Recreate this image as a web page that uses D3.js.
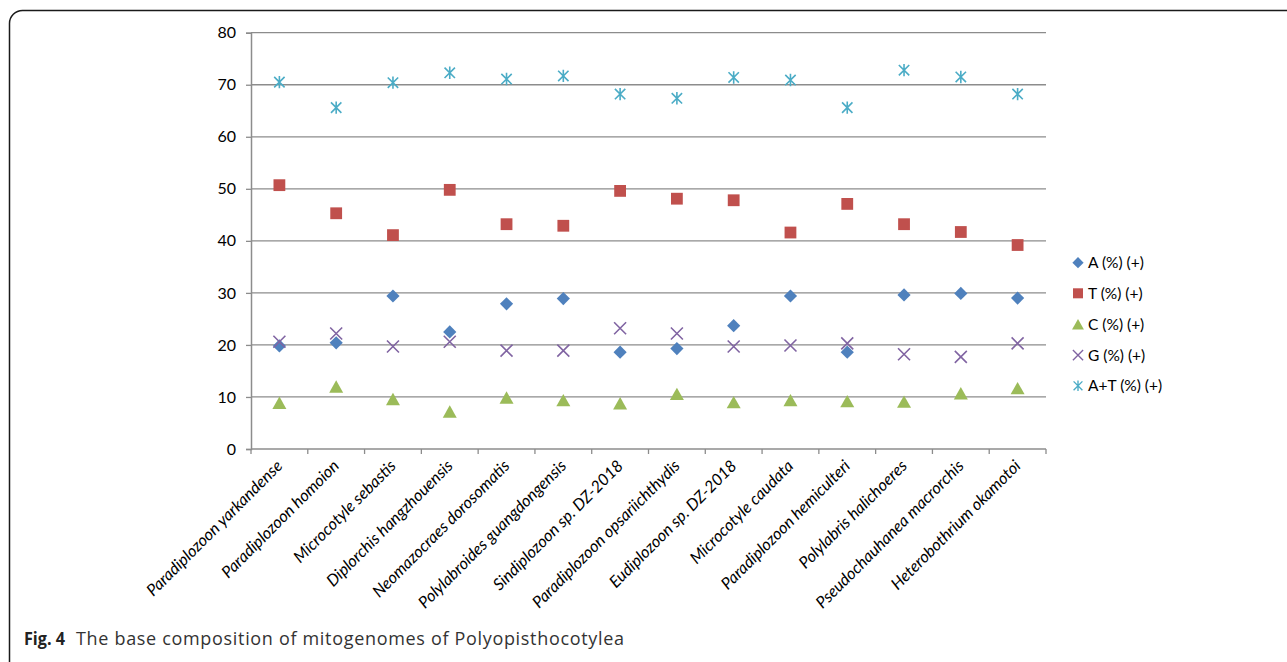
<!DOCTYPE html>
<html>
<head>
<meta charset="utf-8">
<script src="https://cdn.jsdelivr.net/npm/d3@7/dist/d3.min.js"></script>
<style>
  html, body { margin: 0; padding: 0; background: #fff; }
  svg { display: block; }
</style>
</head>
<body>
<svg id="chart" width="1287" height="662"></svg>
<script>
// Species (x-axis categories)
const species = [
  "Paradiplozoon yarkandense",
  "Paradiplozoon homoion",
  "Microcotyle sebastis",
  "Diplorchis hangzhouensis",
  "Neomazocraes dorosomatis",
  "Polylabroides guangdongensis",
  "Sindiplozoon sp. DZ-2018",
  "Paradiplozoon opsariichthydis",
  "Eudiplozoon sp. DZ-2018",
  "Microcotyle caudata",
  "Paradiplozoon hemiculteri",
  "Polylabris halichoeres",
  "Pseudochauhanea macrorchis",
  "Heterobothrium okamotoi"
];

// Base composition (%) of the (+) strand
const valuesA  = [19.8, 20.4, 29.4, 22.5, 27.9, 28.9, 18.6, 19.3, 23.7, 29.4, 18.6, 29.6, 29.9, 29.0];
const valuesT  = [50.7, 45.3, 41.1, 49.8, 43.2, 42.9, 49.6, 48.1, 47.8, 41.6, 47.1, 43.2, 41.7, 39.2];
const valuesC  = [ 8.9, 12.0,  9.6,  7.2,  9.9,  9.4,  8.8, 10.6,  9.0,  9.4,  9.2,  9.1, 10.7, 11.7];
const valuesG  = [20.6, 22.2, 19.7, 20.6, 18.9, 18.9, 23.2, 22.2, 19.7, 19.9, 20.3, 18.2, 17.7, 20.3];
const valuesAT = [70.5, 65.6, 70.4, 72.3, 71.1, 71.7, 68.2, 67.4, 71.4, 70.9, 65.6, 72.8, 71.5, 68.2];

const yTicks = [0, 10, 20, 30, 40, 50, 60, 70, 80];

const seriesNames  = ["A (%) (+)", "T (%) (+)", "C (%) (+)", "G (%) (+)", "A+T (%) (+)"];
const seriesValues = [valuesA, valuesT, valuesC, valuesG, valuesAT];
const seriesColors = ["#4F81BD", "#C0504D", "#9BBB59", "#8064A2", "#4BACC6"];
const seriesShapes = ["diamond", "square", "triangle", "x", "star"];

const svg = d3.select("#chart");
const chartFont = "Lato, 'Liberation Sans', sans-serif";

// Rounded figure frame (continues past the right and bottom edges)
svg.append("rect")
  .attr("x", 9.5).attr("y", 10.5)
  .attr("width", 1320).attr("height", 680)
  .attr("rx", 13).attr("ry", 13)
  .attr("fill", "none")
  .attr("stroke", "#1a1a1a")
  .attr("stroke-width", 1.5);

const plot = { left: 251, right: 1046, top: 32.7, bottom: 449 };

const x = d3.scaleBand()
  .domain(species)
  .range([plot.left, plot.right])
  .paddingInner(0).paddingOuter(0);

const y = d3.scaleLinear()
  .domain([0, 80])
  .range([plot.bottom, plot.top]);

const gridColor = "#8c8c8c";

// Horizontal gridlines
svg.append("g")
  .selectAll("line")
  .data(yTicks.filter(d => d > 0))
  .join("line")
  .attr("x1", plot.left).attr("x2", plot.right)
  .attr("y1", d => y(d)).attr("y2", d => y(d))
  .attr("stroke", gridColor)
  .attr("stroke-width", 1.3);

// Y axis
const yAxis = svg.append("g")
  .attr("transform", `translate(${plot.left},0)`)
  .call(d3.axisLeft(y).tickValues(yTicks).tickSize(5).tickPadding(10));
yAxis.select(".domain").attr("stroke", gridColor).attr("stroke-width", 1.5);
yAxis.selectAll(".tick line").attr("stroke", gridColor).attr("stroke-width", 1.3);
yAxis.selectAll(".tick text")
  .attr("fill", "#000")
  .style("font-family", chartFont)
  .style("font-size", "16px");

// X axis: line plus tick marks at category boundaries
const boundaries = species.map(s => x(s)).concat([plot.right]);
svg.append("line")
  .attr("x1", plot.left).attr("x2", plot.right)
  .attr("y1", plot.bottom).attr("y2", plot.bottom)
  .attr("stroke", gridColor).attr("stroke-width", 1.5);
svg.append("g")
  .selectAll("line")
  .data(boundaries)
  .join("line")
  .attr("x1", d => d).attr("x2", d => d)
  .attr("y1", plot.bottom).attr("y2", plot.bottom + 5)
  .attr("stroke", gridColor).attr("stroke-width", 1.3);

// Rotated species labels
svg.append("g")
  .selectAll("text")
  .data(species)
  .join("text")
  .attr("transform", d => `translate(${x(d) + x.bandwidth() / 2 + 4},${plot.bottom + 18}) rotate(-45)`)
  .attr("text-anchor", "end")
  .style("font-family", chartFont)
  .style("font-style", "italic")
  .style("font-size", "16.3px")
  .attr("fill", "#000")
  .text(d => d);

// Marker path builders (centered on 0,0)
function markerPath(shape) {
  const p = d3.path();
  if (shape === "diamond") {
    const r = 6.6;
    p.moveTo(0, -r); p.lineTo(r, 0); p.lineTo(0, r); p.lineTo(-r, 0); p.closePath();
  } else if (shape === "square") {
    const r = 5.9;
    p.rect(-r, -r, 2 * r, 2 * r);
  } else if (shape === "triangle") {
    const w = 7, h = 6.2;
    p.moveTo(0, -h); p.lineTo(w, h); p.lineTo(-w, h); p.closePath();
  } else if (shape === "x") {
    const r = 6;
    p.moveTo(-r, -r); p.lineTo(r, r); p.moveTo(r, -r); p.lineTo(-r, r);
  } else if (shape === "star") {
    const r = 6.2, d = 5.2;
    p.moveTo(-d, -d); p.lineTo(d, d); p.moveTo(d, -d); p.lineTo(-d, d);
    p.moveTo(0, -r); p.lineTo(0, r);
  }
  return p.toString();
}
const isStroked = s => s === "x" || s === "star";

function styleMarker(sel, shape, color) {
  if (isStroked(shape)) {
    sel.attr("fill", "none").attr("stroke", color).attr("stroke-width", 1.6);
  } else {
    sel.attr("fill", color).attr("stroke", "none");
  }
}

// Series markers
seriesValues.forEach((vals, i) => {
  const shape = seriesShapes[i];
  const g = svg.append("g");
  g.selectAll("path")
    .data(vals)
    .join("path")
    .attr("d", markerPath(shape))
    .attr("transform", (v, j) => `translate(${x(species[j]) + x.bandwidth() / 2},${y(v)})`)
    .call(styleMarker, shape, seriesColors[i]);
});

// Legend
const legendRowsY = [262.7, 293.3, 324.2, 355.2, 385.8];
const legend = svg.append("g");
seriesNames.forEach((name, i) => {
  const row = legend.append("g").attr("transform", `translate(1078,${legendRowsY[i]})`);
  row.append("path")
    .attr("d", markerPath(seriesShapes[i]))
    .attr("transform", "scale(0.85)")
    .call(styleMarker, seriesShapes[i], seriesColors[i]);
  row.append("text")
    .attr("x", 10).attr("y", 0).attr("dy", "0.35em")
    .style("font-family", chartFont)
    .style("font-size", "15.5px")
    .attr("fill", "#000")
    .text(name);
});

// Caption
const captionFont = "'Open Sans', 'Noto Sans', sans-serif";
svg.append("text")
  .attr("x", 24).attr("y", 645)
  .attr("textLength", 41).attr("lengthAdjust", "spacingAndGlyphs")
  .style("font-family", captionFont)
  .style("font-weight", "bold")
  .style("font-size", "18px")
  .attr("fill", "#222")
  .text("Fig. 4");
svg.append("text")
  .attr("x", 76).attr("y", 645)
  .attr("textLength", 548).attr("lengthAdjust", "spacing")
  .style("font-family", captionFont)
  .style("font-size", "18px")
  .attr("fill", "#333")
  .text("The base composition of mitogenomes of Polyopisthocotylea");
</script>
</body>
</html>
